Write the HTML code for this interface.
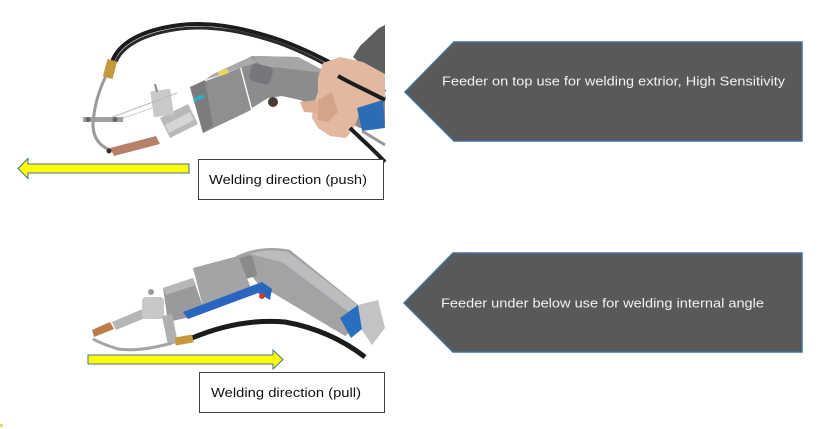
<!DOCTYPE html>
<html><head><meta charset="utf-8"><style>
html,body{margin:0;padding:0;background:#fff;}
svg{display:block;}
</style></head><body>
<svg width="823" height="429" viewBox="0 0 823 429" xmlns="http://www.w3.org/2000/svg">
<rect width="823" height="429" fill="#fff"/>

<!-- ===== TOP PHOTO ===== -->
<!-- black cable arc (double) -->
<path d="M112,62 C118,44 140,30 180,25 C215,21 250,30 280,40 C305,49 325,60 345,70 L385,92" fill="none" stroke="#1c1c1c" stroke-width="4"/>
<path d="M116,62 C122,47 142,34 180,29 C214,25 248,33 278,43 C303,52 323,63 343,74 L385,98" fill="none" stroke="#2a2a2a" stroke-width="3"/>
<!-- sleeve -->
<polygon points="379,28 385,25 385,80 370,72 353,57 360,46" fill="#5c5e60"/>
<!-- handle -->
<polygon points="240,63 252,56 298,57 330,74 385,100 385,124 360,128 340,118 300,100 282,96 268,98 252,108" fill="#8c8c8e"/>
<polygon points="252,56 298,57 330,74 300,70 262,66" fill="#a6a6a8"/>
<rect x="250" y="65" width="22" height="18" rx="5" fill="#76777a" transform="rotate(15 261 74)"/>
<circle cx="273" cy="102" r="5" fill="#4a3a36"/>
<!-- head box -->
<polygon points="190,87 240,68 251,110 203,133" fill="#8f8f91"/>
<polygon points="213,74 250,57 258,62 240,68 205,80" fill="#a9a9ab"/>
<polygon points="190,87 205,80 213,126 203,133" fill="#7c7c7f"/>
<rect x="218" y="70" width="10" height="5" fill="#e8d860" transform="rotate(-20 223 72)"/>
<rect x="194" y="96" width="10" height="4" fill="#2ab0c8" transform="rotate(-20 199 98)"/>
<!-- neck -->
<polygon points="160,118 188,104 198,124 170,138" fill="#b9b9bb"/>
<polygon points="165,125 190,112 194,120 169,133" fill="#d5d5d7"/>
<!-- bracket -->
<rect x="152" y="90" width="20" height="26" fill="#c9c9cb" transform="rotate(-8 162 103)"/>
<line x1="155" y1="84" x2="157" y2="92" stroke="#888" stroke-width="2"/>
<line x1="110" y1="118" x2="177" y2="93" stroke="#bbb" stroke-width="1"/>
<line x1="112" y1="122" x2="172" y2="101" stroke="#ccc" stroke-width="1"/>
<!-- clamp rod -->
<rect x="83" y="117" width="40" height="5" fill="#a0a0a2"/>
<circle cx="88" cy="119.5" r="2.5" fill="#666"/>
<circle cx="115" cy="119.5" r="2.5" fill="#666"/>
<!-- wire guide -->
<path d="M106,76 C98,92 94,108 93,124 C93,138 100,146 110,150" fill="none" stroke="#9a9a9c" stroke-width="3"/>
<!-- brass fitting -->
<rect x="105" y="60" width="10" height="18" fill="#c49a3c" transform="rotate(15 110 69)"/>
<!-- copper nozzle -->
<polygon points="110,148 156,136 160,144 114,156" fill="#b78068"/>
<circle cx="109" cy="151" r="2.5" fill="#3a2a26"/>
<!-- hand -->
<polygon points="323,63 340,57 363,62 385,74 385,100 370,104 360,112 354,128 346,138 330,136 318,128 312,118 313,106 318,92 318,78" fill="#e2b8a0"/>
<polygon points="300,102 316,100 318,113 304,112" fill="#dcae94"/>
<polygon points="318,100 332,92 338,112 328,122 318,120" fill="#d4a489"/>
<path d="M338,76 C352,84 366,90 385,100" fill="none" stroke="#1c1c1c" stroke-width="4"/>
<!-- blue ring -->
<polygon points="357,108 383,100 385,128 362,131" fill="#2c6cb5"/>
<!-- lower cables -->
<path d="M350,128 C360,138 372,148 385,162" fill="none" stroke="#1c1c1c" stroke-width="4"/>
<path d="M362,131 L385,145" fill="none" stroke="#999" stroke-width="3"/>

<!-- ===== BOTTOM PHOTO ===== -->
<!-- cable -->
<path d="M192,338 Q240,318 285,322 Q330,330 365,357" fill="none" stroke="#1c1c1c" stroke-width="5"/>
<!-- handle -->
<path d="M236,256 Q262,244 290,250 L372,316 L345,336 L258,284 Z" fill="#a3a3a6"/>
<path d="M250,254 Q268,248 288,252 L372,316 L362,322 L282,262 Z" fill="#bdbdc0"/>
<rect x="241" y="256" width="14" height="22" rx="3" fill="#8a8a8d" transform="rotate(-15 248 267)"/>
<!-- head -->
<polygon points="193,268 238,256 253,293 203,307" fill="#a4a4a7"/>
<polygon points="163,288 193,278 203,307 190,317 168,322" fill="#9a9a9d"/>
<polygon points="163,288 193,278 196,285 166,295" fill="#b7b7ba"/>
<!-- blue strip -->
<polygon points="183,312 262,282 272,289 270,300 258,293 188,319" fill="#2a66c0"/>
<circle cx="262" cy="296" r="3" fill="#d04020"/>
<!-- blue ring + end -->
<polygon points="340,318 358,305 367,325 351,338" fill="#2a6ec0"/>
<polygon points="358,305 378,300 385,328 372,345 362,330" fill="#c3c3c6"/>
<!-- neck -->
<polygon points="112,322 145,308 150,316 116,330" fill="#b5b5b8"/>
<rect x="142" y="297" width="22" height="22" rx="4" fill="#c8c8cb"/>
<circle cx="151" cy="292" r="3" fill="#999"/>
<!-- bracket -->
<polygon points="162,316 172,314 178,343 168,345" fill="#b0b0b3"/>
<!-- copper nozzle -->
<polygon points="92,330 110,322 114,329 94,337" fill="#bd7c48"/>
<!-- wire guide -->
<path d="M93,339 Q102,344 118,349 Q140,352 172,343" fill="none" stroke="#a4a4a7" stroke-width="3"/>
<!-- brass fitting -->
<rect x="175" y="336" width="18" height="8" fill="#c49a3c" transform="rotate(-10 184 340)"/>

<!-- ===== ARROWS ===== -->
<polygon points="18,168.5 28,158.5 28,164 189,164 189,173 28,173 28,178.5" fill="#ffff00" stroke="#41719c" stroke-width="1"/>
<polygon points="88,355 273,355 273,350 283,359.5 273,369 273,364 88,364" fill="#ffff00" stroke="#41719c" stroke-width="1"/>

<!-- ===== TEXT BOXES ===== -->
<rect x="198.5" y="159.5" width="185" height="40" fill="#fff" stroke="#3f3f3f" stroke-width="1"/>
<text x="209" y="184" font-family="Liberation Sans, sans-serif" font-size="13" fill="#111" textLength="158" lengthAdjust="spacingAndGlyphs">Welding direction (push)</text>
<rect x="199.5" y="372.5" width="185" height="40" fill="#fff" stroke="#3f3f3f" stroke-width="1"/>
<text x="211" y="397" font-family="Liberation Sans, sans-serif" font-size="13" fill="#111" textLength="150" lengthAdjust="spacingAndGlyphs">Welding direction (pull)</text>

<!-- ===== PENTAGONS ===== -->
<polygon points="405,92 454,42 802,42 802,141 454,141" fill="#595959" stroke="#41719c" stroke-width="1.5"/>
<text x="442" y="85.5" font-family="Liberation Sans, sans-serif" font-size="13" fill="#f2f2f2" textLength="343" lengthAdjust="spacingAndGlyphs">Feeder on top use for welding extrior, High Sensitivity</text>
<polygon points="404,303 453,253 802,253 802,352 453,352" fill="#595959" stroke="#41719c" stroke-width="1.5"/>
<text x="441" y="307.5" font-family="Liberation Sans, sans-serif" font-size="13" fill="#f2f2f2" textLength="323" lengthAdjust="spacingAndGlyphs">Feeder under below use for welding internal angle</text>

<rect x="0" y="424" width="3" height="3" fill="#e8e060"/>
</svg>
</body></html>
